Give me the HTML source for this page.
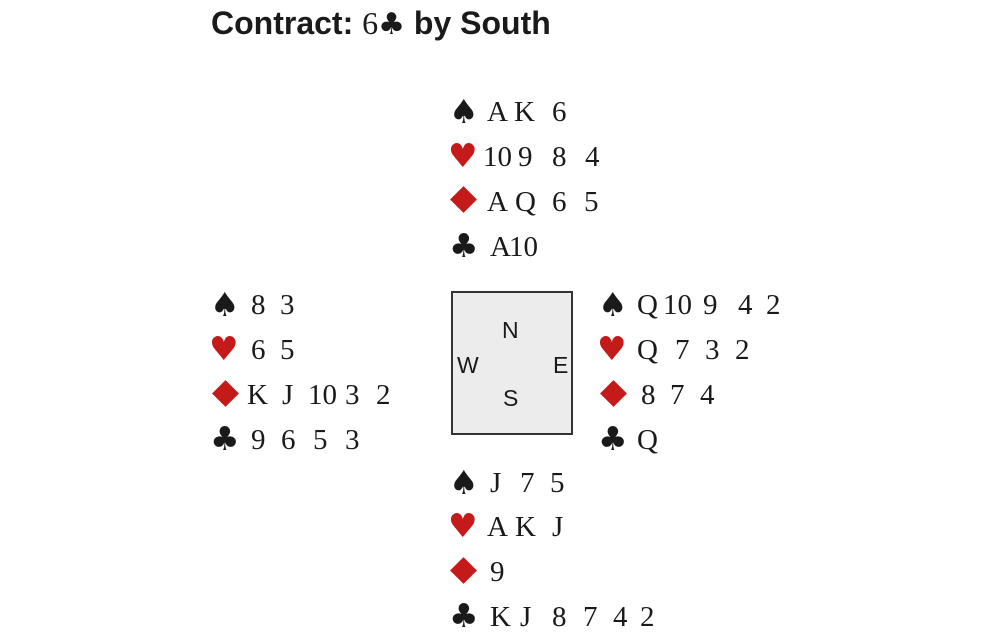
<!DOCTYPE html>
<html><head><meta charset="utf-8"><style>
body{margin:0;width:1000px;height:642px;background:#fff;position:relative;overflow:hidden}
.t{position:absolute;font:29px/1 "Liberation Serif",serif;color:#1a1a1a;margin-top:0px}
.s{position:absolute;font:33px/1 "DejaVu Sans",sans-serif;color:#1a1a1a}
.r{color:#c41a1a}
.dm{position:absolute;width:19px;height:19px;background:#c41a1a;transform:rotate(45deg)}
#title{position:absolute;left:211px;top:4px;font:bold 32px/1.2 "Liberation Sans",sans-serif;color:#1a1a1a}
#box{position:absolute;left:451px;top:291px;width:118px;height:140px;background:#ececec;border:2px solid #333}
.d{position:absolute;font:23px/1 "Liberation Sans",sans-serif;color:#1a1a1a}
</style></head><body>
<div id="title">Contract: <span style="font-family:'Liberation Serif',serif;font-weight:normal">6</span><span style="font-family:'DejaVu Sans',sans-serif;font-weight:normal;font-size:30px">♣</span> by South</div>

<div id="box"></div>
<div class="d" style="left:502px;top:319px">N</div>
<div class="d" style="left:457px;top:354px">W</div>
<div class="d" style="left:553px;top:354px">E</div>
<div class="d" style="left:503px;top:387px">S</div>

<!-- North -->
<div class="s" style="left:449px;top:95px">♠</div>
<div class="t" style="left:487px;top:98px">A</div><div class="t" style="left:514px;top:98px">K</div><div class="t" style="left:552px;top:98px">6</div>
<div class="s r" style="left:448px;top:139px">♥</div>
<div class="t" style="left:483px;top:143px">10</div><div class="t" style="left:518px;top:143px">9</div><div class="t" style="left:552px;top:143px">8</div><div class="t" style="left:585px;top:143px">4</div>
<div class="dm" style="left:454px;top:190px"></div>
<div class="t" style="left:487px;top:188px">A</div><div class="t" style="left:515px;top:188px">Q</div><div class="t" style="left:552px;top:188px">6</div><div class="t" style="left:584px;top:188px">5</div>
<div class="s" style="left:449px;top:229px">♣</div>
<div class="t" style="left:490px;top:233px">A</div><div class="t" style="left:509px;top:233px">10</div>

<!-- West -->
<div class="s" style="left:210px;top:288px">♠</div>
<div class="t" style="left:251px;top:291px">8</div><div class="t" style="left:280px;top:291px">3</div>
<div class="s r" style="left:209px;top:332px">♥</div>
<div class="t" style="left:251px;top:336px">6</div><div class="t" style="left:280px;top:336px">5</div>
<div class="dm" style="left:216px;top:384px"></div>
<div class="t" style="left:247px;top:381px">K</div><div class="t" style="left:282px;top:381px">J</div><div class="t" style="left:308px;top:381px">10</div><div class="t" style="left:345px;top:381px">3</div><div class="t" style="left:376px;top:381px">2</div>
<div class="s" style="left:210px;top:422px">♣</div>
<div class="t" style="left:251px;top:426px">9</div><div class="t" style="left:281px;top:426px">6</div><div class="t" style="left:313px;top:426px">5</div><div class="t" style="left:345px;top:426px">3</div>

<!-- East -->
<div class="s" style="left:598px;top:288px">♠</div>
<div class="t" style="left:637px;top:291px">Q</div><div class="t" style="left:663px;top:291px">10</div><div class="t" style="left:703px;top:291px">9</div><div class="t" style="left:738px;top:291px">4</div><div class="t" style="left:766px;top:291px">2</div>
<div class="s r" style="left:597px;top:332px">♥</div>
<div class="t" style="left:637px;top:336px">Q</div><div class="t" style="left:675px;top:336px">7</div><div class="t" style="left:705px;top:336px">3</div><div class="t" style="left:735px;top:336px">2</div>
<div class="dm" style="left:604px;top:384px"></div>
<div class="t" style="left:641px;top:381px">8</div><div class="t" style="left:670px;top:381px">7</div><div class="t" style="left:700px;top:381px">4</div>
<div class="s" style="left:598px;top:422px">♣</div>
<div class="t" style="left:637px;top:426px">Q</div>

<!-- South -->
<div class="s" style="left:449px;top:466px">♠</div>
<div class="t" style="left:490px;top:469px">J</div><div class="t" style="left:520px;top:469px">7</div><div class="t" style="left:550px;top:469px">5</div>
<div class="s r" style="left:448px;top:509px">♥</div>
<div class="t" style="left:487px;top:513px">A</div><div class="t" style="left:515px;top:513px">K</div><div class="t" style="left:552px;top:513px">J</div>
<div class="dm" style="left:454px;top:561px"></div>
<div class="t" style="left:490px;top:558px">9</div>
<div class="s" style="left:449px;top:599px">♣</div>
<div class="t" style="left:490px;top:603px">K</div><div class="t" style="left:520px;top:603px">J</div><div class="t" style="left:552px;top:603px">8</div><div class="t" style="left:583px;top:603px">7</div><div class="t" style="left:613px;top:603px">4</div><div class="t" style="left:640px;top:603px">2</div>
</body></html>
